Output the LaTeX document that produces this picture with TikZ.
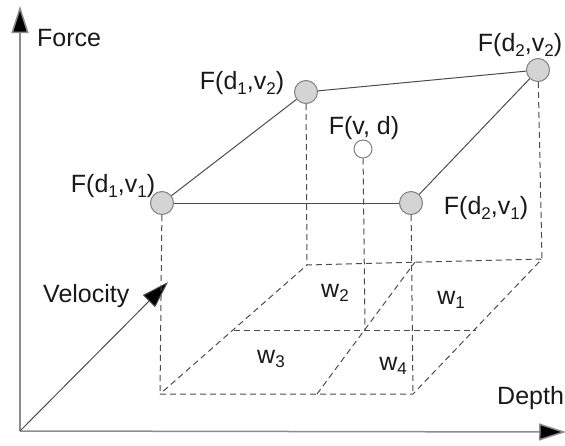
\documentclass[tikz,border=0pt]{standalone}
\usepackage{fontspec}
\setmainfont{Liberation Sans}
\usetikzlibrary{arrows.meta}
\newcommand{\lo}[1]{\raisebox{-0.35ex}{\fontsize{17}{17}\selectfont #1}}
\begin{document}
\begin{tikzpicture}[x=1pt,y=-1pt,
  lbl/.style={font=\fontsize{25}{27}\selectfont, inner sep=0pt, text=black!90},
  pt/.style={circle, draw=black!50, fill=black!17, line width=1pt, minimum size=23pt, inner sep=0pt},
  ptw/.style={circle, draw=black!50, fill=white, line width=1pt, minimum size=18pt, inner sep=0pt},
  axis/.style={draw=black!45, line width=1.5pt, -{Triangle[length=27pt,width=17pt,fill=black]}},
  edge/.style={draw=black!70, line width=1pt},
  drop/.style={draw=black!70, line width=1pt, dash pattern=on 6pt off 4pt}]
\useasboundingbox (0,0) rectangle (565,445);
% axes
\coordinate (O) at (20,431);
\coordinate (Ftip) at (20,6);
\coordinate (Dtip) at (566,432);
\coordinate (Vtip) at (168,282);
\draw[axis] (O) -- (Ftip);
\draw[axis] (O) -- (Dtip);
\draw[axis, draw=black!70, line width=1pt] (O) -- (Vtip);
\node[lbl, anchor=west] (force) at (37,38) {Force};
\node[lbl, anchor=west] (vel) at (43,296) {Velocity};
\node[lbl, anchor=west] (depth) at (497,398) {Depth};
% floor corners
\coordinate (A) at (160,394);
\coordinate (B) at (413,394);
\coordinate (C) at (542,259);
\coordinate (D) at (307,265);
\coordinate (ML) at (234,330);
\coordinate (MR) at (476,330);
\coordinate (MF) at (317,394);
\coordinate (MB) at (415,262);
\coordinate (X) at (365,330);
% floor
\draw[drop] (A) -- (B) -- (C) -- (D) -- cycle;
\draw[drop] (ML) -- (MR);
\draw[drop] (MF) -- (MB);
% top points
\node[pt] (p11) at (162,203) {};
\node[pt] (p21) at (411,203) {};
\node[pt] (p12) at (306,92) {};
\node[pt] (p22) at (538,70) {};
\node[ptw] (pvd) at (363,149) {};
% drops
\draw[drop] (p11) -- (A);
\draw[drop] (p21) -- (B);
\draw[drop] (p12) -- (D);
\draw[drop] (p22) -- (C);
\draw[drop] (pvd) -- (X);
% top edges
\draw[edge] (p11) -- (p21);
\draw[edge] (p11) -- (p12);
\draw[edge] (p12) -- (p22);
\draw[edge] (p22) -- (p21);
% labels
\node[lbl] (l12) at (242,83) {F(d\lo{1},v\lo{2})};
\node[lbl] (lvd) at (364,128) {F(v, d)};
\node[lbl] (l22) at (520,45) {F(d\lo{2},v\lo{2})};
\node[lbl] (l11) at (113,186) {F(d\lo{1},v\lo{1})};
\node[lbl] (l21) at (486,208) {F(d\lo{2},v\lo{1})};
\node[lbl] (w2) at (335,293) {w\lo{2}};
\node[lbl] (w1) at (451,300) {w\lo{1}};
\node[lbl] (w3) at (271,359) {w\lo{3}};
\node[lbl] (w4) at (393,366) {w\lo{4}};
\end{tikzpicture}
\end{document}
